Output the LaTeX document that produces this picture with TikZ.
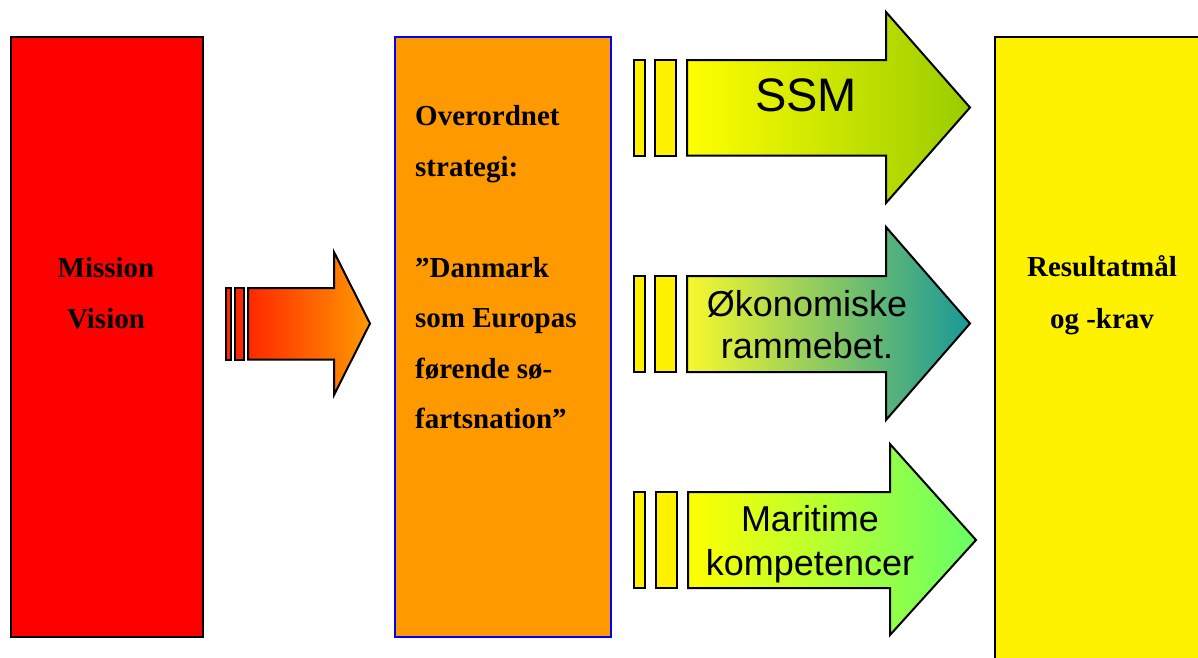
\documentclass[tikz,border=0pt]{standalone}
\usepackage{fontspec}
\setmainfont{Liberation Serif}
\newfontfamily\arialfont{Liberation Sans}
\definecolor{pilrod}{RGB}{255,40,0}
\definecolor{pilorange}{RGB}{255,153,0}
\definecolor{gulgron}{RGB}{153,204,0}
\definecolor{petrol}{RGB}{25,152,152}
\definecolor{blegmidt}{RGB}{178,210,115}
\definecolor{lysgul}{RGB}{248,248,45}
\definecolor{lysgron}{RGB}{102,255,102}
\begin{document}
\begin{tikzpicture}[x=1pt,y=-1pt,
    boks/.style={line width=1.8pt,anchor=north west,inner sep=0pt},
    stribe/.style={draw=black,line width=2pt},
    pil/.style={draw=black,line width=2pt,line join=miter},
    fed/.style={font=\fontsize{29}{50.5}\selectfont\bfseries},
    pilnavn/.style={font=\arialfont\fontsize{36}{42}\selectfont,align=center,anchor=base}]
    \clip (0,0) rectangle (1198,657);
    \fill[white] (0,0) rectangle (1198,657);
    % kasserne
    \node[boks,draw=black,fill=red,minimum width=192pt,minimum height=600pt] (mission) at (10,36) {};
    \node[boks,draw=blue,fill=pilorange,minimum width=216pt,minimum height=600pt] (strategi) at (394,36) {};
    \node[boks,draw=black,fill=yellow,minimum width=260pt,minimum height=700pt] (resultat) at (994,36) {};
    \node[fed,align=center,anchor=base] (missiontekst) at (106,328) {Mission\\Vision};
    \node[fed,align=left,anchor=base west,inner sep=0pt] (strategitekst) at (415,428.5)
      {Overordnet\\strategi:\\[50.5pt]”Danmark\\som Europas\\førende sø-\\fartsnation”};
    \node[fed,align=center,anchor=base,font=\fontsize{29}{52}\selectfont\bfseries] (resultattekst) at (1102,328.7)
      {Resultatmål\\og -krav};
    % pil fra mission til strategi
    \filldraw[stribe,fill=pilrod] (226,288) rectangle (231,359.5);
    \filldraw[stribe,fill=pilrod] (234.5,288) rectangle (244,359.5);
    \shadedraw[pil,left color=pilrod,right color=pilorange]
      (248,288) -- (334,288) -- (334,252) -- (370,323.5) -- (334,395) -- (334,359.5) -- (248,359.5) -- cycle;
    % tre pile mod resultatmaal
    \foreach \y/\h in {60/155.5,276/372}{
      \filldraw[stribe,fill=yellow] (634,\y) rectangle (644.5,\h);
      \filldraw[stribe,fill=yellow] (655,\y) rectangle (676,\h);
    }
    \filldraw[stribe,fill=yellow] (634,492) rectangle (645,588);
    \filldraw[stribe,fill=yellow] (656,492) rectangle (677,588);
    \shadedraw[pil,left color=yellow,right color=gulgron]
      (687,60) -- (886,60) -- (886,12) -- (970,107.5) -- (886,203) -- (886,155.5) -- (687,155.5) -- cycle;
    \shadedraw[pil,left color=lysgul,middle color=blegmidt,right color=petrol]
      (687,276) -- (886,276) -- (886,227) -- (970,323.5) -- (886,420) -- (886,372) -- (687,372) -- cycle;
    \shadedraw[pil,left color=yellow,right color=lysgron]
      (688,492) -- (890,492) -- (890,444) -- (976,540) -- (890,635) -- (890,588) -- (688,588) -- cycle;
    \node[pilnavn,font=\arialfont\fontsize{47}{50}\selectfont] (ssm) at (806,111) {SSM};
    \node[pilnavn,font=\arialfont\fontsize{36}{41.6}\selectfont] (okonomi) at (807,358.3) {Økonomiske\\rammebet.};
    \node[pilnavn,font=\arialfont\fontsize{36}{44}\selectfont] (maritim) at (810,575.7) {Maritime\\kompetencer};
\end{tikzpicture}
\end{document}
